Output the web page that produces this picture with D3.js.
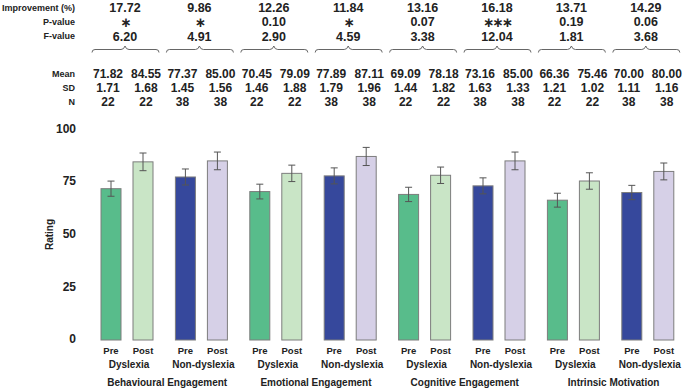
<!DOCTYPE html>
<html><head><meta charset="utf-8">
<script src="https://cdn.jsdelivr.net/npm/d3@7"></script>
<style>
html,body{margin:0;padding:0;background:#fff;}
text{font-family:"Liberation Sans",Arial,Helvetica,sans-serif;font-weight:bold;fill:#222;}
</style></head>
<body><svg id="chart" width="685" height="390"></svg>
<script>
// ---- data ----
const measures = ["Behavioural Engagement","Emotional Engagement","Cognitive Engagement","Intrinsic Motivation"];
const groups = ["Dyslexia","Non-dyslexia"];
const times = ["Pre","Post"];
// per measure x group: [Pre, Post]
const means = [
  [71.82,84.55],[77.37,85.00],
  [70.45,79.09],[77.89,87.11],
  [69.09,78.18],[73.16,85.00],
  [66.36,75.46],[70.00,80.00]
];
const sds = [
  [1.71,1.68],[1.45,1.56],
  [1.46,1.88],[1.79,1.96],
  [1.44,1.82],[1.63,1.33],
  [1.21,1.02],[1.11,1.16]
];
const ns = [
  [22,22],[38,38],[22,22],[38,38],[22,22],[38,38],[22,22],[38,38]
];
// error bar half-lengths (rating units)
const errs = [
  [3.6,4.2],[3.8,4.2],
  [3.5,3.9],[3.8,4.3],
  [3.4,3.9],[3.8,4.2],
  [3.3,3.9],[3.4,4.0]
];
const improvement = ["17.72","9.86","12.26","11.84","13.16","16.18","13.71","14.29"];
const pvalue = ["*","*","0.10","*","0.07","***","0.19","0.06"];
const fvalue = ["6.20","4.91","2.90","4.59","3.38","12.04","1.81","3.68"];
const yTicks = [0,25,50,75,100];
const colors = {"Dyslexia":["#58BC8B","#C9E5C6"],"Non-dyslexia":["#36489C","#D6D0E7"]};

// ---- build ----
const pairs = [];
measures.forEach((m,mi)=>groups.forEach((g,gi)=>pairs.push({m,g,key:m+"|"+g,i:mi*2+gi})));

const svg = d3.select("#chart");
const x0 = d3.scaleBand().domain(pairs.map(p=>p.key)).range([89.3,684.5]).padding(0);
const x1 = d3.scaleBand().domain(times).range([11.7,63.7]).paddingInner(0.375).paddingOuter(0);
const y = d3.scaleLinear().domain([0,100]).range([340,129.3]);
const pc = k => x0(k)+x1.range()[0]+ (x1.range()[1]-x1.range()[0])/2;

// y axis labels
const yAxis = d3.axisLeft(y).tickValues(yTicks).tickSize(0).tickPadding(0);
const ga = svg.append("g").attr("transform","translate(76,-1)").call(yAxis);
ga.select(".domain").remove();
ga.selectAll("text").attr("font-size","12px").attr("fill","#222")
  .style("font-family","'Liberation Sans',Arial,sans-serif").style("font-weight","bold");

svg.append("text").attr("transform","translate(53,234.5) rotate(-90)")
  .attr("text-anchor","middle").attr("font-size","10px").text("Rating");

// bars
const bars = [];
pairs.forEach(p=>times.forEach((t,ti)=>bars.push({p,t,ti,v:means[p.i][ti],e:errs[p.i][ti]})));

svg.append("g").selectAll("rect").data(bars).join("rect")
  .attr("x",d=>x0(d.p.key)+x1(d.t)).attr("width",x1.bandwidth())
  .attr("y",d=>y(d.v)).attr("height",d=>y(0)-y(d.v))
  .attr("fill",d=>colors[d.p.g][d.ti]).attr("stroke","#7d7d7d").attr("stroke-width",1);

// error bars
const eg = svg.append("g").attr("stroke","#555").attr("stroke-width",1);
bars.forEach(d=>{
  const cx = x0(d.p.key)+x1(d.t)+x1.bandwidth()/2;
  eg.append("line").attr("x1",cx).attr("x2",cx).attr("y1",y(d.v+d.e)).attr("y2",y(d.v-d.e));
  [d.v+d.e,d.v-d.e].forEach(v=>eg.append("line").attr("x1",cx-3.5).attr("x2",cx+3.5).attr("y1",y(v)).attr("y2",y(v)));
});

// x labels
bars.forEach(d=>{
  svg.append("text").attr("x",x0(d.p.key)+x1(d.t)+x1.bandwidth()/2).attr("y",353.5)
    .attr("text-anchor","middle").attr("font-size","9.5px").text(d.t);
});
pairs.forEach(p=>{
  svg.append("text").attr("x",pc(p.key)+2).attr("y",368)
    .attr("text-anchor","middle").attr("font-size","10px").text(p.g);
});
measures.forEach((m,mi)=>{
  const cx = (pc(pairs[mi*2].key)+pc(pairs[mi*2+1].key))/2;
  svg.append("text").attr("x",cx+3).attr("y",386)
    .attr("text-anchor","middle").attr("font-size","10px").text(m);
});

// top table labels
const rowLabels = [["Improvement (%)",11],["P-value",25],["F-value",39],["Mean",77],["SD",91],["N",105]];
rowLabels.forEach(([t,yy])=>svg.append("text").attr("x",75).attr("y",yy)
  .attr("text-anchor","end").attr("font-size","9px").text(t));

pairs.forEach(p=>{
  const c = pc(p.key);
  svg.append("text").attr("x",c-2).attr("y",11.5).attr("text-anchor","middle").attr("font-size","12.5px").text(improvement[p.i]);
  const pv = pvalue[p.i];
  if(pv.startsWith("*")){
    svg.append("text").attr("x",c-2).attr("y",26.8).attr("text-anchor","middle").attr("font-size","13.5px")
      .style("font-family","'DejaVu Sans',sans-serif").attr("letter-spacing","-2px")
      .text(pv.replace(/\*/g,"\u2217"));
  } else {
    svg.append("text").attr("x",c-2).attr("y",26).attr("text-anchor","middle").attr("font-size","12.5px").text(pv);
  }
  svg.append("text").attr("x",c-2).attr("y",41.3).attr("text-anchor","middle").attr("font-size","12.5px").text(fvalue[p.i]);
  // brace
  const a = c-35, b = c+32, m = c-2, yl = 49.5;
  svg.append("path").attr("fill","none").attr("stroke","#666").attr("stroke-width",1)
    .attr("d",`M${a},${yl+3}Q${a},${yl} ${a+3},${yl}L${m-4},${yl}Q${m-1},${yl} ${m},${yl-3.5}Q${m+1},${yl} ${m+4},${yl}L${b-3},${yl}Q${b},${yl} ${b},${yl+3}`);
  times.forEach((t,ti)=>{
    const cx = c + (ti===0?-19:19);
    svg.append("text").attr("x",cx).attr("y",78).attr("text-anchor","middle").attr("font-size","12px").text(means[p.i][ti].toFixed(2));
    svg.append("text").attr("x",cx).attr("y",92).attr("text-anchor","middle").attr("font-size","12px").text(sds[p.i][ti].toFixed(2));
    svg.append("text").attr("x",cx).attr("y",106).attr("text-anchor","middle").attr("font-size","12px").text(ns[p.i][ti]);
  });
});
</script></body></html>
